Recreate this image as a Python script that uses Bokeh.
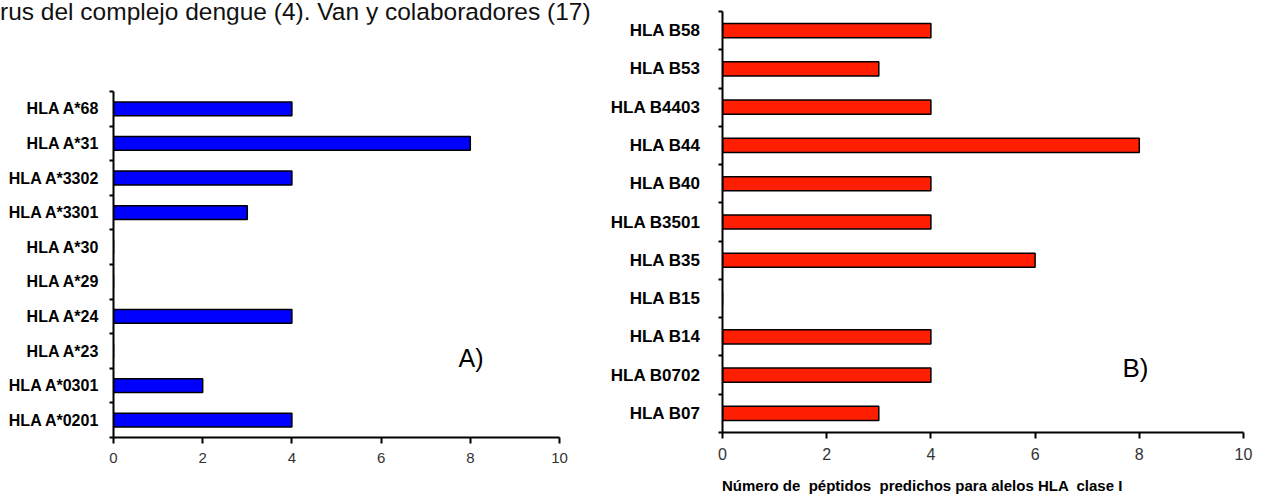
from bokeh.plotting import figure
from bokeh.models import FixedTicker, Range1d, Label, ColumnDataSource, Div
from bokeh.layouts import row, column
from bokeh.embed import file_html
from bokeh.resources import INLINE

# ---- data ----
alleles_a = ["HLA A*0201", "HLA A*0301", "HLA A*23", "HLA A*24", "HLA A*29",
             "HLA A*30", "HLA A*3301", "HLA A*3302", "HLA A*31", "HLA A*68"]
peptides_a = [4, 2, 0, 4, 0, 0, 3, 4, 8, 4]

alleles_b = ["HLA B07", "HLA B0702", "HLA B14", "HLA B15", "HLA B35", "HLA B3501",
             "HLA B40", "HLA B44", "HLA B4403", "HLA B53", "HLA B58"]
peptides_b = [3, 4, 4, 0, 6, 4, 4, 8, 4, 3, 4]

x_ticks = [0, 2, 4, 6, 8, 10]

title_text = "rus del complejo dengue (4). Van y colaboradores (17)"
x_label_text = "Número de  péptidos  predichos para alelos HLA  clase I"
FONT = "Liberation Sans"

TOTAL_H = 497
DIV_H = 24      # title line above the left chart
XLAB_H = 22     # x-axis caption line below the right chart


def make_panel(alleles, values, color, width, height, borders,
               label_px, tick_px, standoff, bar_h):
    n = len(alleles)
    left, right, top, bottom = borders
    p = figure(width=width, height=height, output_backend="svg",
               toolbar_location=None, x_range=Range1d(0, 10),
               y_range=Range1d(-0.5, n - 0.5),
               min_border_left=left, min_border_right=right,
               min_border_top=top, min_border_bottom=bottom)
    src = ColumnDataSource(dict(y=list(range(n)), v=values, name=alleles))
    p.hbar(y="y", left=0, right="v", height=bar_h, source=src,
           fill_color=color, line_color="black", line_width=1.5)
    p.outline_line_color = None
    p.grid.visible = False
    p.background_fill_color = "white"
    p.border_fill_color = "white"

    xa = p.xaxis[0]
    xa.ticker = FixedTicker(ticks=x_ticks, minor_ticks=[])
    xa.axis_line_width = 2
    xa.axis_line_color = "black"
    xa.major_tick_line_width = 2
    xa.major_tick_out = 6
    xa.major_tick_in = 0
    xa.minor_tick_line_color = None
    xa.major_label_text_font = FONT
    xa.major_label_text_font_size = f"{tick_px}px"
    xa.major_label_text_color = "#333333"
    xa.major_label_standoff = 9

    ya = p.yaxis[0]
    ya.ticker = FixedTicker(ticks=list(range(n)),
                            minor_ticks=[i - 0.5 for i in range(n + 1)])
    ya.major_label_overrides = {i: a for i, a in enumerate(alleles)}
    ya.axis_line_width = 2
    ya.axis_line_color = "black"
    ya.major_tick_in = 0
    ya.major_tick_out = 0
    ya.major_tick_line_color = None
    ya.minor_tick_in = 0
    ya.minor_tick_out = 4
    ya.minor_tick_line_width = 2
    ya.minor_tick_line_color = "black"
    ya.major_label_text_font = FONT
    ya.major_label_text_font_style = "bold"
    ya.major_label_text_font_size = f"{label_px}px"
    ya.major_label_text_color = "black"
    ya.major_label_standoff = standoff
    return p


# left chart under the title line; frame spans page y 91..437, x 113..559
pa_h = TOTAL_H - DIV_H
pa = make_panel(alleles_a, peptides_a, "#0000FF", 590, pa_h,
                (113, 31, 91 - DIV_H, pa_h - (437 - DIV_H)),
                16, 15, 10, 0.40)
# right chart above its caption line; frame spans page y 11..432, x 722..1243
pb_h = TOTAL_H - XLAB_H
pb = make_panel(alleles_b, peptides_b, "#FF1E00", 670, pb_h,
                (132, 17, 11, pb_h - 432),
                17, 16, 18, 0.37)

pa.add_layout(Label(x=345, y=80, x_units="screen", y_units="screen",
                    text="A)", text_font=FONT, text_font_size="25px",
                    text_color="black", text_baseline="middle"))
pb.add_layout(Label(x=400, y=65, x_units="screen", y_units="screen",
                    text="B)", text_font=FONT, text_font_size="26px",
                    text_color="black", text_baseline="middle"))

title_div = Div(text=title_text, width=590, height=DIV_H, margin=0,
                styles={"font-family": "Liberation Sans", "font-size": "24.5px",
                        "line-height": "24px", "white-space": "nowrap",
                        "color": "#111111", "margin": "0", "padding": "0"})

xlabel_div = Div(text=x_label_text, width=670 - 132, height=XLAB_H,
                 margin=(0, 0, 0, 132),
                 styles={"font-family": "Liberation Sans", "font-size": "15px",
                         "font-weight": "bold", "line-height": f"{XLAB_H}px",
                         "white-space": "pre", "color": "black",
                         "padding": "0"})

layout = row(column(title_div, pa, spacing=0),
             column(pb, xlabel_div, spacing=0), spacing=0)
open("out.html", "w").write(file_html(layout, INLINE))
